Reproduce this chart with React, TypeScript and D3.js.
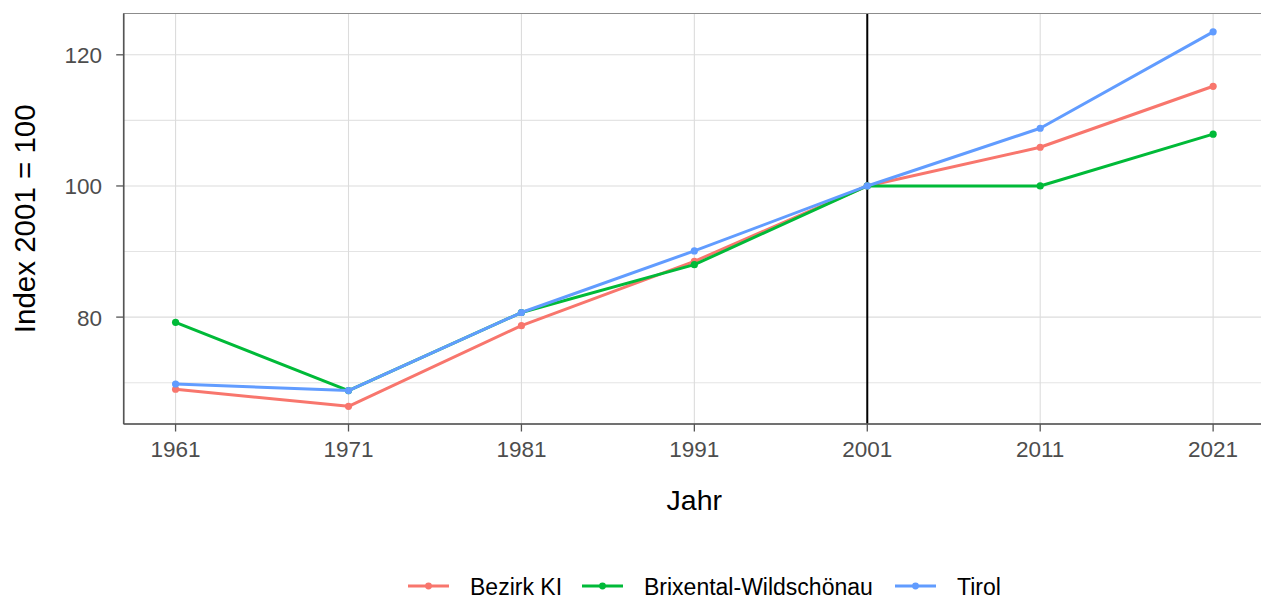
import React from 'react';
import * as d3 from 'd3';

const years = [1961, 1971, 1981, 1991, 2001, 2011, 2021];
const seriesNames = ['Bezirk KI', 'Brixental-Wildschönau', 'Tirol'];
const bezirkKI = [69.0, 66.4, 78.7, 88.5, 100, 105.9, 115.2];
const brixental = [79.2, 68.8, 80.7, 88.0, 100, 100, 107.9];
const tirol = [69.8, 68.8, 80.7, 90.1, 100, 108.8, 123.5];
const colors = ['#F8766D', '#00BA38', '#619CFF'];
const yTicks = [80, 100, 120];
const yMinor = [70, 90, 110];
const refYear = 2001;

const W = 1261;
const H = 598;
const margin = { top: 13.5, right: -4, bottom: 174, left: 123.7 };
const legendX = [408, 582, 895];

const App: React.FC = () => {
  const values = [bezirkKI, brixental, tirol];
  const x = d3.scaleLinear().domain([1958, 2024]).range([margin.left, W - margin.right]);
  const y = d3.scaleLinear().domain([63.7, 126.3]).range([H - margin.bottom, margin.top]);
  const line = d3
    .line<number>()
    .x((_, i) => x(years[i]))
    .y((d) => y(d));

  const x0 = x.range()[0];
  const x1 = x.range()[1];
  const y0 = y.range()[0];
  const y1 = y.range()[1];
  const font = 'Liberation Sans, Arial, sans-serif';

  return (
    <svg width={W} height={H} style={{ position: 'absolute', left: 0, top: 0, fontFamily: font }}>
      <rect x={0} y={0} width={W} height={H} fill="#fff" />
      {/* grid */}
      {yMinor.map((t) => (
        <line key={'m' + t} x1={x0} x2={x1} y1={y(t)} y2={y(t)} stroke="#E4E4E4" strokeWidth={1.1} />
      ))}
      {yTicks.map((t) => (
        <line key={'y' + t} x1={x0} x2={x1} y1={y(t)} y2={y(t)} stroke="#DCDCDC" strokeWidth={1.1} />
      ))}
      {years.map((t) => (
        <line key={'x' + t} x1={x(t)} x2={x(t)} y1={y0} y2={y1} stroke="#DCDCDC" strokeWidth={1.1} />
      ))}
      {/* reference line */}
      <line x1={x(refYear)} x2={x(refYear)} y1={y0} y2={y1} stroke="#000" strokeWidth={2} />
      {/* series */}
      {values.map((v, s) => (
        <g key={seriesNames[s]}>
          <path d={line(v) || ''} fill="none" stroke={colors[s]} strokeWidth={3} strokeLinejoin="round" />
          {v.map((d, i) => (
            <circle key={i} cx={x(years[i])} cy={y(d)} r={3.6} fill={colors[s]} />
          ))}
        </g>
      ))}
      {/* panel border */}
      <rect x={x0} y={y1} width={x1 - x0} height={y0 - y1} fill="none" stroke="#8C8C8C" strokeWidth={1} />
      <line x1={x0} x2={x0} y1={y1} y2={y0} stroke="#555" strokeWidth={1.6} />
      <line x1={x0} x2={x1} y1={y0} y2={y0} stroke="#555" strokeWidth={1.6} />
      {/* y axis */}
      {yTicks.map((t) => (
        <g key={'yt' + t}>
          <line x1={x0 - 7.5} x2={x0} y1={y(t)} y2={y(t)} stroke="#555" strokeWidth={1.3} />
          <text x={102} y={y(t) + 8.5} textAnchor="end" fontSize={22.5} fill="#4D4D4D">
            {t}
          </text>
        </g>
      ))}
      {/* x axis */}
      {years.map((t) => (
        <g key={'xt' + t}>
          <line x1={x(t)} x2={x(t)} y1={y0} y2={y0 + 7.5} stroke="#555" strokeWidth={1.3} />
          <text x={x(t)} y={456.5} textAnchor="middle" fontSize={22.5} fill="#4D4D4D">
            {t}
          </text>
        </g>
      ))}
      <text x={(x0 + x1) / 2} y={510} textAnchor="middle" fontSize={28.5} fill="#000">
        Jahr
      </text>
      <text
        transform={`translate(35, ${(y0 + y1) / 2}) rotate(-90)`}
        textAnchor="middle"
        fontSize={29.5}
        fill="#000"
      >
        Index 2001 = 100
      </text>
      {/* legend */}
      {seriesNames.map((name, s) => (
        <g key={'lg' + name} transform={`translate(${legendX[s]}, 586)`}>
          <line x1={0} x2={41} y1={0} y2={0} stroke={colors[s]} strokeWidth={3} />
          <circle cx={20.5} cy={0} r={3.4} fill={colors[s]} />
          <text x={62} y={8.5} fontSize={23} fill="#000">
            {name}
          </text>
        </g>
      ))}
    </svg>
  );
};

export default App;
